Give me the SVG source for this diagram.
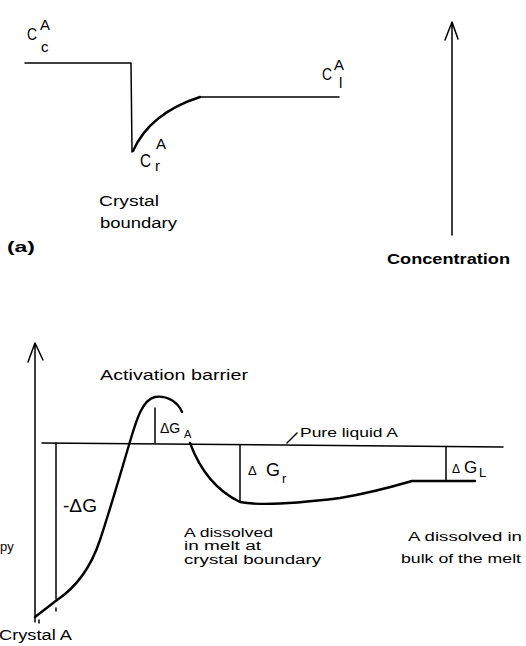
<svg xmlns="http://www.w3.org/2000/svg" width="526" height="646" viewBox="0 0 526 646">
<style>
.t{font-family:"Liberation Sans","DejaVu Sans",sans-serif;fill:#000}
.ln{fill:none;stroke:#000;stroke-width:1.5;stroke-linecap:round;stroke-linejoin:round}
.cv{fill:none;stroke:#000;stroke-width:2.4;stroke-linecap:round;stroke-linejoin:round}
</style>
<rect width="526" height="646" fill="#fff"/>
<g id="panel-a">
  <path class="ln" d="M25 63 H131 L132 152"/>
  <path class="cv" d="M133 151 Q150 113 200 97"/>
  <path class="ln" d="M200 97 H339"/>
  <g id="conc-axis">
    <path class="ln" d="M452 235 V22 M445 40 L452 22 L458 39"/>
  </g>
  <g id="label-cc">
    <text class="t" x="27" y="40" font-size="16" textLength="10" lengthAdjust="spacingAndGlyphs">C</text>
    <text class="t" x="40" y="30" font-size="15">A</text>
    <text class="t" x="41" y="52" font-size="15">c</text>
  </g>
  <g id="label-cr">
    <text class="t" x="140" y="167" font-size="18" textLength="11" lengthAdjust="spacingAndGlyphs">C</text>
    <text class="t" x="156" y="149" font-size="15">A</text>
    <text class="t" x="155" y="171" font-size="15">r</text>
  </g>
  <g id="label-cl">
    <text class="t" x="322" y="80" font-size="17" textLength="10" lengthAdjust="spacingAndGlyphs">C</text>
    <text class="t" x="334" y="70" font-size="15">A</text>
    <text class="t" x="339" y="88" font-size="15">l</text>
  </g>
  <text class="t" x="99" y="206" font-size="14" textLength="60" lengthAdjust="spacingAndGlyphs">Crystal</text>
  <text class="t" x="100" y="228" font-size="14" textLength="77" lengthAdjust="spacingAndGlyphs">boundary</text>
  <text class="t" x="7" y="252" font-size="14" font-weight="bold" textLength="28" lengthAdjust="spacingAndGlyphs">(a)</text>
  <text class="t" x="387" y="264" font-size="14" font-weight="bold" textLength="123" lengthAdjust="spacingAndGlyphs">Concentration</text>
</g>
<g id="panel-b">
  <g id="energy-axis">
    <path class="ln" d="M35 622 V343 M28 362 L35 343 L43 360"/>
  </g>
  <path class="ln" d="M42 443 L503 447"/>
  <path class="ln" d="M287 443 L297 433"/>
  <g id="connectors">
    <path class="ln" d="M56 443 V599"/>
    <path class="ln" d="M155 408 V443"/>
    <path class="ln" d="M240 445 V502"/>
    <path class="ln" d="M446 447 V481"/>
    <path class="ln" d="M39 620 v3 M56 608 v3"/>
  </g>
  <path class="cv" d="M35 617 L57 600 C75 588 90 570 100 540 C110 510 120 475 129 445 C135 425 141 400 155 397 C167 395 178 402 182 412"/>
  <path class="cv" d="M190 443 C200 470 215 490 240 502 C260 506 300 503 340 498 C370 493 395 486 412 481 L475 481"/>
  <g id="label-barrier">
    <text class="t" x="100" y="380" font-size="15" textLength="148" lengthAdjust="spacingAndGlyphs">Activation barrier</text>
  </g>
  <g id="label-pure">
    <text class="t" x="300" y="437" font-size="13" textLength="98" lengthAdjust="spacingAndGlyphs">Pure liquid A</text>
  </g>
  <g id="label-dga">
    <text class="t" x="160" y="433" font-size="14">ΔG</text>
    <text class="t" x="184" y="438" font-size="11">A</text>
  </g>
  <g id="label-dg">
    <text class="t" x="63" y="512" font-size="18" textLength="34" lengthAdjust="spacingAndGlyphs">-ΔG</text>
  </g>
  <g id="label-dgr">
    <text class="t" x="248" y="475" font-size="13">Δ</text>
    <text class="t" x="266" y="476" font-size="18">G</text>
    <text class="t" x="282" y="483" font-size="13">r</text>
  </g>
  <g id="label-dgl">
    <text class="t" x="452" y="473" font-size="12">Δ</text>
    <text class="t" x="464" y="473" font-size="17">G</text>
    <text class="t" x="479" y="477" font-size="13">L</text>
  </g>
  <g id="label-boundary">
    <text class="t" x="184" y="537" font-size="12.5" textLength="89" lengthAdjust="spacingAndGlyphs">A dissolved</text>
    <text class="t" x="184" y="550" font-size="12.5" textLength="77" lengthAdjust="spacingAndGlyphs">in melt at</text>
    <text class="t" x="184" y="564" font-size="12.5" textLength="137" lengthAdjust="spacingAndGlyphs">crystal boundary</text>
  </g>
  <g id="label-bulk">
    <text class="t" x="408" y="541" font-size="13" textLength="114" lengthAdjust="spacingAndGlyphs">A  dissolved in</text>
    <text class="t" x="401" y="563" font-size="13" textLength="120" lengthAdjust="spacingAndGlyphs">bulk of the melt</text>
  </g>
  <text class="t" x="0" y="551" font-size="13">py</text>
  <text class="t" x="-1" y="640" font-size="14" textLength="73" lengthAdjust="spacingAndGlyphs">Crystal A</text>
</g>
</svg>
